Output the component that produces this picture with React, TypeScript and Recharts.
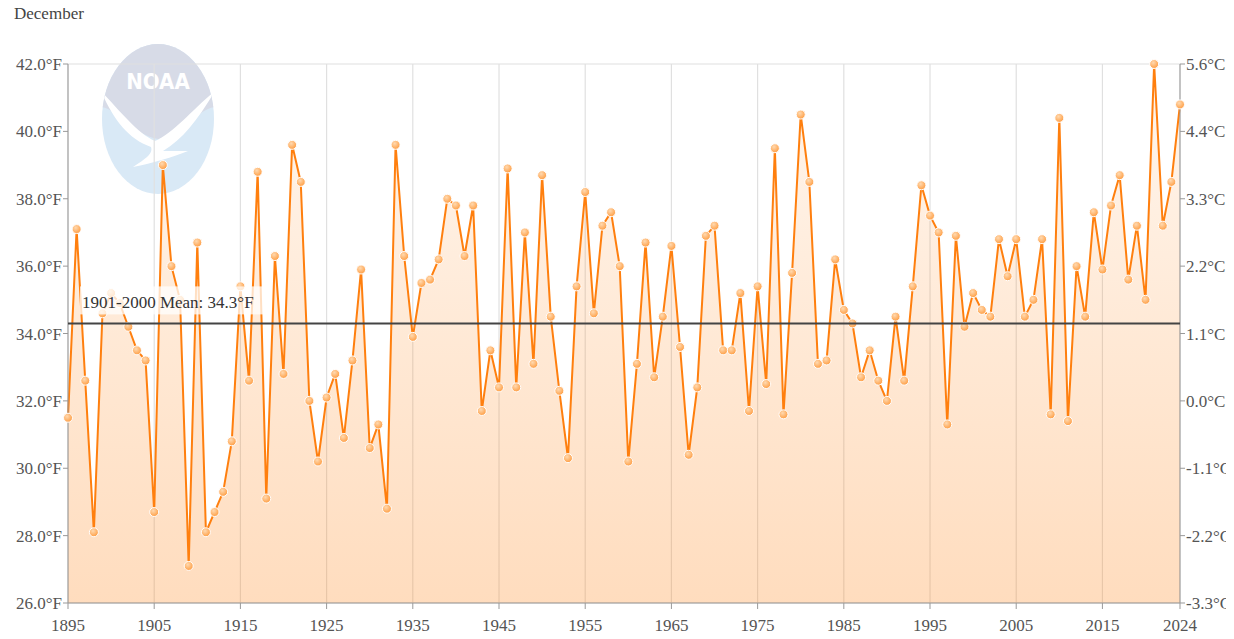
import React from "react";
import {
  ComposedChart,
  Area,
  Line,
  XAxis,
  YAxis,
  CartesianGrid,
  ReferenceLine,
} from "recharts";

const TITLE = "December";
const START_YEAR = 1895;
const MEAN_F = 34.3;
const MEAN_LABEL = "1901-2000 Mean: 34.3°F";

// December temperatures (°F), one row per decade starting at 1895
const temps: number[] = [
  31.5, 37.1, 32.6, 28.1, 34.6, 35.2, 34.9, 34.2, 33.5, 33.2,
  28.7, 39.0, 36.0, 35.0, 27.1, 36.7, 28.1, 28.7, 29.3, 30.8,
  35.4, 32.6, 38.8, 29.1, 36.3, 32.8, 39.6, 38.5, 32.0, 30.2,
  32.1, 32.8, 30.9, 33.2, 35.9, 30.6, 31.3, 28.8, 39.6, 36.3,
  33.9, 35.5, 35.6, 36.2, 38.0, 37.8, 36.3, 37.8, 31.7, 33.5,
  32.4, 38.9, 32.4, 37.0, 33.1, 38.7, 34.5, 32.3, 30.3, 35.4,
  38.2, 34.6, 37.2, 37.6, 36.0, 30.2, 33.1, 36.7, 32.7, 34.5,
  36.6, 33.6, 30.4, 32.4, 36.9, 37.2, 33.5, 33.5, 35.2, 31.7,
  35.4, 32.5, 39.5, 31.6, 35.8, 40.5, 38.5, 33.1, 33.2, 36.2,
  34.7, 34.3, 32.7, 33.5, 32.6, 32.0, 34.5, 32.6, 35.4, 38.4,
  37.5, 37.0, 31.3, 36.9, 34.2, 35.2, 34.7, 34.5, 36.8, 35.7,
  36.8, 34.5, 35.0, 36.8, 31.6, 40.4, 31.4, 36.0, 34.5, 37.6,
  35.9, 37.8, 38.7, 35.6, 37.2, 35.0, 42.0, 37.2, 38.5, 40.8,
];

const xTicks = [1895, 1905, 1915, 1925, 1935, 1945, 1955, 1965, 1975, 1985, 1995, 2005, 2015, 2024];
const yTicks = [26, 28, 30, 32, 34, 36, 38, 40, 42];

const data = temps.map((t, i) => ({ year: START_YEAR + i, temp: t }));

const FONT = "Liberation Serif, Times New Roman, serif";
const TICK_COLOR = "#555";

const fmtF = (v: number) => `${v.toFixed(1)}°F`;
const fmtC = (v: number) => {
  const c = ((v - 32) * 5) / 9;
  const r = Math.round(c * 10) / 10;
  return `${(Object.is(r, -0) ? 0 : r).toFixed(1)}°C`;
};

const XTick = (props: any) => {
  const { x, y, payload } = props;
  return (
    <text
      x={x}
      y={y + 20}
      textAnchor="middle"
      style={{ fontFamily: FONT, fontSize: 17, fill: TICK_COLOR }}
    >
      {payload.value}
    </text>
  );
};

const LeftTick = (props: any) => {
  const { x, y, payload } = props;
  return (
    <text
      x={x}
      y={y + 6}
      textAnchor="end"
      style={{ fontFamily: FONT, fontSize: 17, fill: TICK_COLOR }}
    >
      {fmtF(payload.value)}
    </text>
  );
};

const RightTick = (props: any) => {
  const { x, y, payload } = props;
  return (
    <text
      x={x}
      y={y + 6}
      textAnchor="start"
      style={{ fontFamily: FONT, fontSize: 17, fill: TICK_COLOR }}
    >
      {fmtC(payload.value)}
    </text>
  );
};

const MeanLabel = (props: any) => {
  const vb = props.viewBox || {};
  const x = (vb.x ?? 0) + 12;
  const y = vb.y ?? 0;
  return (
    <g>
      <rect x={x} y={y - 37} width={186} height={28} fill="#ffffff" fillOpacity={0.75} />
      <text
        x={x + 2}
        y={y - 15}
        style={{ fontFamily: FONT, fontSize: 17, fill: "#333" }}
      >
        {MEAN_LABEL}
      </text>
    </g>
  );
};

const NoaaLogo = () => (
  <svg
    width={130}
    height={160}
    style={{ position: "absolute", left: 93, top: 39 }}
    viewBox="0 0 130 160"
  >
    <defs>
      <clipPath id="noaaClip">
        <ellipse cx={65} cy={80} rx={56} ry={75} />
      </clipPath>
    </defs>
    <ellipse cx={65} cy={80} rx={56} ry={75} fill="#d9e9f6" />
    <g clipPath="url(#noaaClip)">
      <path d="M0 0 H130 V70 C110 60 95 95 65 100 C35 95 20 60 0 70 Z" fill="#d7dbe7" />
      <path
        d="M8 52 C25 70 45 95 62 102 C80 95 100 70 122 52 C105 80 90 100 70 112 L95 112 C80 118 60 124 40 128 C55 118 60 114 58 108 C35 100 20 80 8 52 Z"
        fill="#ffffff"
      />
    </g>
    <text
      x={65}
      y={50}
      textAnchor="middle"
      style={{ fontFamily: "DejaVu Sans Condensed, DejaVu Sans, sans-serif", fontWeight: "bold", fontSize: 22, fill: "#ffffff" }}
    >
      NOAA
    </text>
  </svg>
);

export default function App() {
  return (
    <div
      style={{
        position: "relative",
        width: 1234,
        height: 639,
        margin: -8,
        background: "#ffffff",
        overflow: "hidden",
      }}
    >
      <div
        style={{
          position: "absolute",
          left: 0,
          top: 0,
          width: 8,
          height: 639,
          background:
            "repeating-linear-gradient(135deg, #d6d6d6 0px, #d6d6d6 1.5px, #f2f2f2 1.5px, #f2f2f2 4px)",
        }}
      />
      <div
        style={{
          position: "absolute",
          left: 14,
          top: 4,
          fontFamily: FONT,
          fontSize: 17,
          lineHeight: "20px",
          color: "#444",
        }}
      >
        {TITLE}
      </div>
      <NoaaLogo />
      <div style={{ position: "absolute", left: 0, top: 0 }}>
        <ComposedChart
          width={1234}
          height={639}
          data={data}
          margin={{ top: 64, right: 0, left: 0, bottom: 0 }}
        >
          <defs>
            <linearGradient id="areaGrad" x1="0" y1="0" x2="0" y2="1">
              <stop offset="0%" stopColor="#ff7f0e" stopOpacity={0.07} />
              <stop offset="100%" stopColor="#ff7f0e" stopOpacity={0.27} />
            </linearGradient>
            <radialGradient id="dotGrad" cx="40%" cy="35%" r="70%">
              <stop offset="0%" stopColor="#ffd9b0" />
              <stop offset="100%" stopColor="#ff9a3c" />
            </radialGradient>
          </defs>
          <CartesianGrid stroke="#e0e0e0" strokeWidth={1.2} />
          <XAxis
            dataKey="year"
            type="number"
            domain={[1895, 2024]}
            ticks={xTicks}
            interval={0}
            height={36}
            stroke="#999"
            tickSize={6}
            tickMargin={2}
            tick={<XTick />}
          />
          <YAxis
            yAxisId="f"
            orientation="left"
            domain={[26, 42]}
            ticks={yTicks}
            interval={0}
            width={68}
            stroke="#999"
            tickSize={5}
            tickMargin={1}
            tick={<LeftTick />}
          />
          <YAxis
            yAxisId="c"
            orientation="right"
            type="number"
            domain={[26, 42]}
            ticks={yTicks}
            interval={0}
            width={54}
            stroke="#999"
            tickSize={5}
            tickMargin={1}
            tick={<RightTick />}
          />
          <Line
            yAxisId="c"
            dataKey="temp"
            stroke="none"
            strokeWidth={0}
            dot={false}
            activeDot={false}
            legendType="none"
            isAnimationActive={false}
          />
          <Area
            yAxisId="f"
            type="linear"
            dataKey="temp"
            stroke="#ff7f0e"
            strokeWidth={2}
            fill="url(#areaGrad)"
            fillOpacity={1}
            isAnimationActive={false}
            dot={{ r: 4.5, fill: "url(#dotGrad)", stroke: "#ffffff", strokeWidth: 1, clipDot: false }}
            activeDot={false}
          />
          <ReferenceLine
            yAxisId="f"
            y={MEAN_F}
            stroke="#444"
            strokeWidth={2}
            zIndex={1000}
            label={<MeanLabel />}
          />
        </ComposedChart>
      </div>
    </div>
  );
}
